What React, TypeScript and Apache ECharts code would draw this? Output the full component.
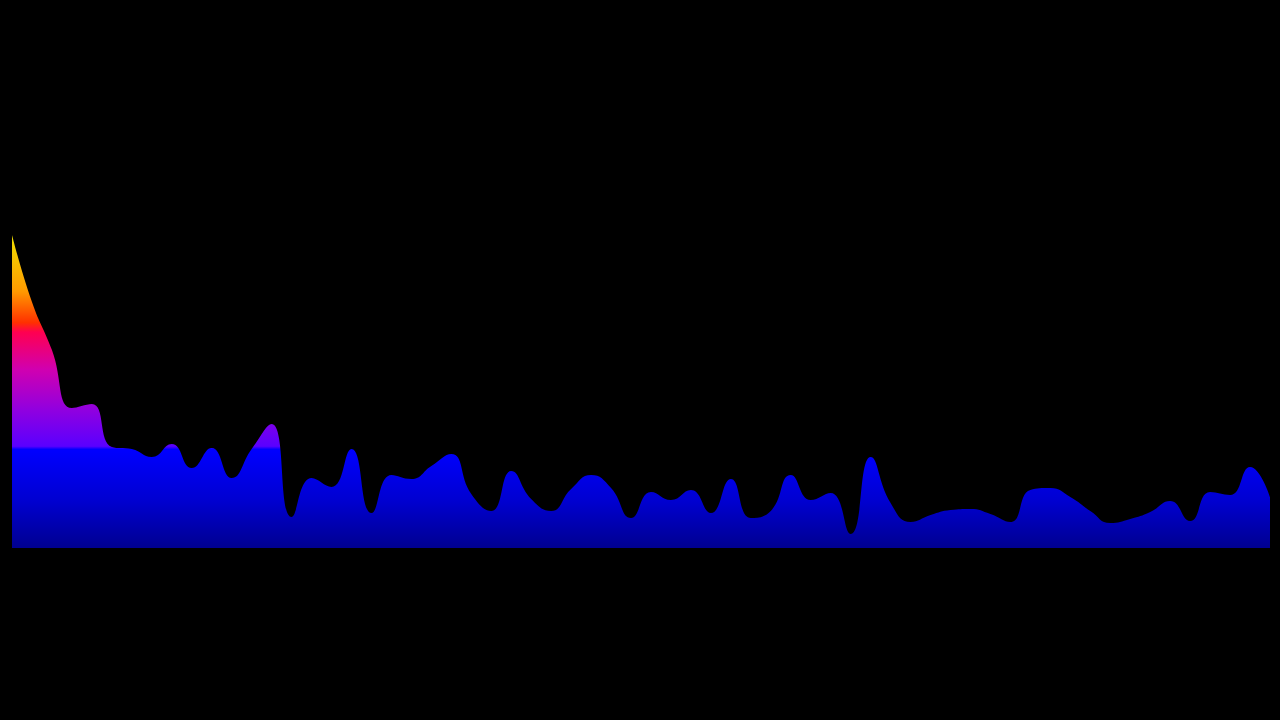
import React, { useEffect, useRef } from "react";
import * as echarts from "echarts";

// Spectrum bins (64 evenly spaced samples), amplitude values
const bins: number[] = Array.from({ length: 64 }, (_, i) => i);
const amplitude: number[] = [
  313, 246, 198, 140, 144, 101, 99, 91, 104, 80,
  100, 70, 99, 124, 31, 70, 61, 99, 35, 73,
  69, 82, 94, 54, 37, 77, 49, 37, 59, 73,
  60, 30, 56, 48, 58, 35, 69, 30, 37, 73,
  48, 55, 14, 91, 45, 26, 33, 38, 39, 34,
  26, 58, 60, 51, 37, 25, 29, 36, 47, 27,
  56, 53, 81, 51,
];
const yMin = 0;
const yMax = 320;

export default function App() {
  const ref = useRef<HTMLDivElement>(null);
  useEffect(() => {
    if (!ref.current) return;
    const chart = echarts.init(ref.current, null, { renderer: "svg" });
    chart.setOption({
      animation: false,
      backgroundColor: "#000000",
      grid: { left: 12, right: 10, top: 228, bottom: 172 },
      xAxis: {
        type: "category",
        data: bins,
        boundaryGap: false,
        show: false,
      },
      yAxis: {
        type: "value",
        min: yMin,
        max: yMax,
        show: false,
      },
      series: [
        {
          type: "line",
          data: amplitude,
          smooth: true,
          showSymbol: false,
          symbol: "none",
          lineStyle: { width: 0 },
          areaStyle: {
            opacity: 1,
            color: new echarts.graphic.LinearGradient(0, 0, 0, 1, [
              { offset: 0, color: "#f0e000" },
              { offset: 0.18, color: "#ff9a00" },
              { offset: 0.28, color: "#ff3000" },
              { offset: 0.31, color: "#ff0050" },
              { offset: 0.43, color: "#d000b0" },
              { offset: 0.56, color: "#9000e0" },
              { offset: 0.675, color: "#5a00ff" },
              { offset: 0.685, color: "#0000ff" },
              { offset: 0.85, color: "#0000d0" },
              { offset: 1, color: "#000090" },
            ]),
          },
        },
      ],
    });
    return () => chart.dispose();
  }, []);
  return (
    <div
      ref={ref}
      style={{ position: "fixed", left: 0, top: 0, width: 1280, height: 720, background: "#000" }}
    />
  );
}
